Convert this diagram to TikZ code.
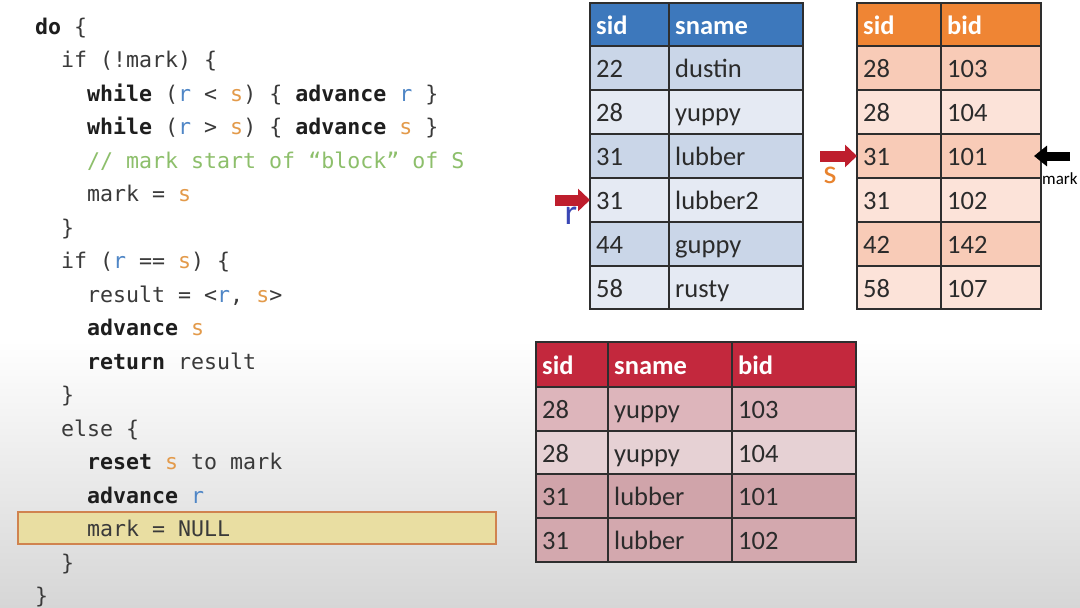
\documentclass[tikz,border=0pt]{standalone}
\usepackage{fontspec}
\setmainfont{Carlito}
\setmonofont{DejaVu Sans Mono}
\usetikzlibrary{arrows.meta}
\definecolor{codeblack}{HTML}{1E1E1E}
\definecolor{codegray}{HTML}{3A3A3A}
\definecolor{rblue}{HTML}{4F86C6}
\definecolor{sorange}{HTML}{E39A4A}
\definecolor{cgreen}{HTML}{8DBF6B}
\definecolor{hlfill}{HTML}{E9DEA2}
\definecolor{hlborder}{HTML}{D0834F}
\definecolor{tAhead}{HTML}{3D78BC}
\definecolor{tAa}{HTML}{CAD6E8}
\definecolor{tAb}{HTML}{E5EAF3}
\definecolor{tBhead}{HTML}{EF8534}
\definecolor{tBa}{HTML}{F8CBB7}
\definecolor{tBb}{HTML}{FCE3D9}
\definecolor{tChead}{HTML}{C3283D}
\definecolor{tCa}{HTML}{DDB5BB}
\definecolor{tCb}{HTML}{E6D1D4}
\definecolor{tCc}{HTML}{D0A4AA}
\definecolor{tCd}{HTML}{D3A8AE}
\definecolor{grid}{HTML}{2E2E2E}
\definecolor{arrowred}{HTML}{BE1E2D}
\definecolor{labelr}{HTML}{3A47B5}
\definecolor{labels}{HTML}{E8832E}
\definecolor{bgbot}{HTML}{D6D6D6}
\definecolor{celltxt}{HTML}{2B2B2B}
\newcommand\kw[1]{{\bfseries\color{codeblack}#1}}
\newcommand\rv{{\color{rblue}r}}
\newcommand\sv{{\color{sorange}s}}
\newcommand\cell[8]{%
  \node[cellbox, fill=#6, minimum width=#4pt, minimum height=#5pt] (#1) at (#2,#3) {};
  \node[#8, anchor=base west] (#1t) at ([xshift=6pt,yshift=-9.5pt]#1.west) {#7};}
\tikzset{
  cellbox/.style={draw=grid, line width=1.2pt, anchor=north west, inner sep=0pt, outer sep=0pt},
  headtxt/.style={text=white, font=\fontsize{26.5}{30}\selectfont\bfseries, inner sep=0pt},
  bodytxt/.style={text=celltxt, font=\fontsize{26.5}{30}\selectfont, inner sep=0pt},
  codeline/.style={anchor=base west, inner sep=0pt, text=codegray, font=\ttfamily\fontsize{21.6}{26}\selectfont},
  redarr/.style={draw=arrowred, line width=11pt, -{Triangle[width=22pt,length=12pt]}},
  blackarr/.style={draw=black, line width=9pt, -{Triangle[width=20pt,length=13pt]}},
  hlbox/.style={draw=hlborder, fill=hlfill, line width=1.5pt, anchor=north west, inner sep=0pt, minimum width=478pt, minimum height=32pt}
}
\begin{document}
\begin{tikzpicture}[x=1pt,y=-1pt]
\useasboundingbox (0,0) rectangle (1080,608);
\fill[white] (0,0) rectangle (1080,608);
\shade[top color=white, bottom color=bgbot] (0,340) rectangle (1080,608);

% highlight
\node[hlbox] (hl) at (17,511) {};

% code
\node[codeline] (code0) at (35,34) {\kw{do} \{};
\node[codeline] (code1) at (61,67.5) {if (!mark) \{};
\node[codeline] (code2) at (87,101) {\kw{while} (\rv{} < \sv) \{ \kw{advance} \rv{} \}};
\node[codeline] (code3) at (87,134.5) {\kw{while} (\rv{} > \sv) \{ \kw{advance} \sv{} \}};
\node[codeline] (code4) at (87,168) {{\color{cgreen}// mark start of “block” of S}};
\node[codeline] (code5) at (87,201.5) {mark = \sv};
\node[codeline] (code6) at (61,235) {\}};
\node[codeline] (code7) at (61,268.5) {if (\rv{} == \sv) \{};
\node[codeline] (code8) at (87,302) {result = <\rv, \sv>};
\node[codeline] (code9) at (87,335.5) {\kw{advance} \sv};
\node[codeline] (code10) at (87,369) {\kw{return} result};
\node[codeline] (code11) at (61,402.5) {\}};
\node[codeline] (code12) at (61,436) {else \{};
\node[codeline] (code13) at (87,469.5) {\kw{reset} \sv{} to mark};
\node[codeline] (code14) at (87,503) {\kw{advance} \rv};
\node[codeline] (code15) at (87,536.5) {mark = NULL};
\node[codeline] (code16) at (61,570) {\}};
\node[codeline] (code17) at (35,603.5) {\}};

% table 1 (sid, sname)
\cell{tAh1}{590}{3}{79}{43}{tAhead}{sid}{headtxt}
\cell{tAh2}{669}{3}{134}{43}{tAhead}{sname}{headtxt}
\cell{tAr1c1}{590}{46}{79}{44}{tAa}{22}{bodytxt}
\cell{tAr1c2}{669}{46}{134}{44}{tAa}{dustin}{bodytxt}
\cell{tAr2c1}{590}{90}{79}{44}{tAb}{28}{bodytxt}
\cell{tAr2c2}{669}{90}{134}{44}{tAb}{yuppy}{bodytxt}
\cell{tAr3c1}{590}{134}{79}{44}{tAa}{31}{bodytxt}
\cell{tAr3c2}{669}{134}{134}{44}{tAa}{lubber}{bodytxt}
\cell{tAr4c1}{590}{178}{79}{44}{tAb}{31}{bodytxt}
\cell{tAr4c2}{669}{178}{134}{44}{tAb}{lubber2}{bodytxt}
\cell{tAr5c1}{590}{222}{79}{44}{tAa}{44}{bodytxt}
\cell{tAr5c2}{669}{222}{134}{44}{tAa}{guppy}{bodytxt}
\cell{tAr6c1}{590}{266}{79}{43}{tAb}{58}{bodytxt}
\cell{tAr6c2}{669}{266}{134}{43}{tAb}{rusty}{bodytxt}

% table 2 (sid, bid)
\cell{tBh1}{857}{3}{84}{43}{tBhead}{sid}{headtxt}
\cell{tBh2}{941}{3}{100}{43}{tBhead}{bid}{headtxt}
\cell{tBr1c1}{857}{46}{84}{44}{tBa}{28}{bodytxt}
\cell{tBr1c2}{941}{46}{100}{44}{tBa}{103}{bodytxt}
\cell{tBr2c1}{857}{90}{84}{44}{tBb}{28}{bodytxt}
\cell{tBr2c2}{941}{90}{100}{44}{tBb}{104}{bodytxt}
\cell{tBr3c1}{857}{134}{84}{44}{tBa}{31}{bodytxt}
\cell{tBr3c2}{941}{134}{100}{44}{tBa}{101}{bodytxt}
\cell{tBr4c1}{857}{178}{84}{44}{tBb}{31}{bodytxt}
\cell{tBr4c2}{941}{178}{100}{44}{tBb}{102}{bodytxt}
\cell{tBr5c1}{857}{222}{84}{44}{tBa}{42}{bodytxt}
\cell{tBr5c2}{941}{222}{100}{44}{tBa}{142}{bodytxt}
\cell{tBr6c1}{857}{266}{84}{43}{tBb}{58}{bodytxt}
\cell{tBr6c2}{941}{266}{100}{43}{tBb}{107}{bodytxt}

% table 3 (result)
\cell{tCh1}{536}{342}{72}{45}{tChead}{sid}{headtxt}
\cell{tCh2}{608}{342}{124}{45}{tChead}{sname}{headtxt}
\cell{tCh3}{732}{342}{124}{45}{tChead}{bid}{headtxt}
\cell{tCr1c1}{536}{387}{72}{44}{tCa}{28}{bodytxt}
\cell{tCr1c2}{608}{387}{124}{44}{tCa}{yuppy}{bodytxt}
\cell{tCr1c3}{732}{387}{124}{44}{tCa}{103}{bodytxt}
\cell{tCr2c1}{536}{431}{72}{43}{tCb}{28}{bodytxt}
\cell{tCr2c2}{608}{431}{124}{43}{tCb}{yuppy}{bodytxt}
\cell{tCr2c3}{732}{431}{124}{43}{tCb}{104}{bodytxt}
\cell{tCr3c1}{536}{474}{72}{44}{tCc}{31}{bodytxt}
\cell{tCr3c2}{608}{474}{124}{44}{tCc}{lubber}{bodytxt}
\cell{tCr3c3}{732}{474}{124}{44}{tCc}{101}{bodytxt}
\cell{tCr4c1}{536}{518}{72}{44}{tCd}{31}{bodytxt}
\cell{tCr4c2}{608}{518}{124}{44}{tCd}{lubber}{bodytxt}
\cell{tCr4c3}{732}{518}{124}{44}{tCd}{102}{bodytxt}

% pointers
\coordinate (rtail) at (555,200);
\draw[redarr] (rtail) -- (tAr4c1.west);
\node[text=labelr, font=\fontsize{36}{40}\selectfont, inner sep=0pt] (rlab) at (571,216) {r};

\coordinate (stail) at (820,156);
\draw[redarr] (stail) -- (tBr3c1.west);
\node[text=labels, font=\fontsize{34}{38}\selectfont, inner sep=0pt] (slab) at (830,175) {s};

\coordinate (mtail) at (1070,156);
\draw[blackarr] (mtail) -- ([xshift=-7pt]tBr3c2.east);
\node[anchor=base west, text=black, font=\fontsize{17}{20}\selectfont, inner sep=0pt] (mlab) at (1042,184) {mark};
\end{tikzpicture}
\end{document}
